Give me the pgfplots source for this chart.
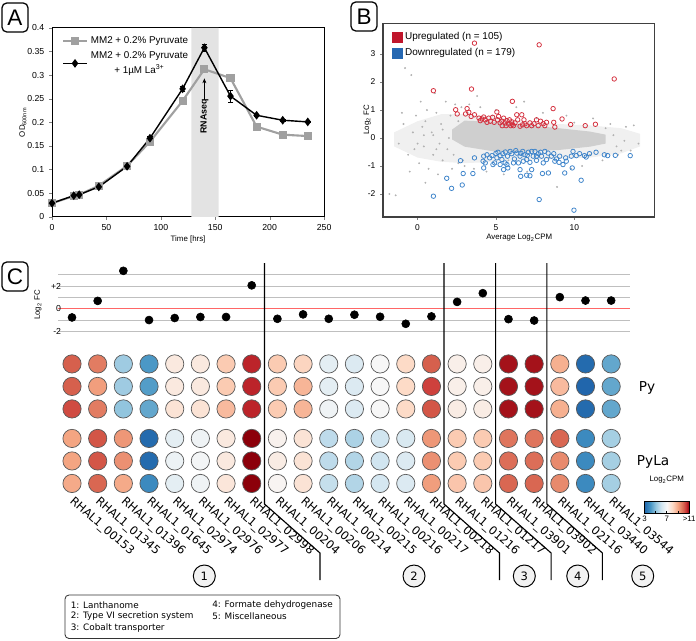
\documentclass[border=0pt]{standalone}
\usepackage{fontspec}
\setmainfont{Liberation Sans}
\newfontfamily\dejavu{DejaVu Sans}
\usepackage{pgfplots}
\pgfplotsset{compat=1.18}
\usetikzlibrary{arrows.meta}

\definecolor{upred}{RGB}{192,22,44}
\definecolor{dnblue}{RGB}{38,104,178}
\definecolor{uppt}{RGB}{212,48,62}
\definecolor{dnpt}{RGB}{62,132,202}
\definecolor{greyline}{RGB}{160,160,160}

\pgfplotsset{hm/.style={scatter, only marks, mark=*, mark size=6.5pt,
    point meta=explicit, scatter/use mapped color={draw=black!65, fill=mapped color},
    mark options={line width=0.5pt}}}

\begin{document}
% 1 unit = 1 px of the 696x640 reference, origin bottom left
\begin{tikzpicture}[x=0.025cm,y=0.025cm]
\path[use as bounding box] (0,0) rectangle (696,640);

% ---------------- panel A: growth curves
\begin{axis}[
    at={(1.3cm,10.575cm)}, anchor=south west, scale only axis,
    width=6.8cm, height=4.725cm,
    xmin=0, xmax=250, ymin=0, ymax=0.4,
    xtick={0,50,100,150,200,250},
    ytick={0,0.05,0.1,0.15,0.2,0.25,0.3,0.35,0.4},
    yticklabel style={/pgf/number format/fixed,/pgf/number format/precision=2},
    /pgf/number format/assume math mode=true,
    tick align=outside, tick pos=left, major tick length=0.07cm,
    tick label style={font=\fontsize{6.2}{7}\selectfont},
    axis line style={line width=0.7pt},
    xlabel={Time [hrs]}, ylabel={OD\textsubscript{600nm}},
    label style={font=\fontsize{5.6}{6}\selectfont},
    xlabel style={at={(axis description cs:0.5,-0.12)}, anchor=center},
    ylabel style={at={(axis description cs:-0.107,0.5)}, anchor=center},
    legend style={draw=none, fill=none, at={(axis description cs:0.02,0.985)},
        anchor=north west, font=\fontsize{7}{8}\selectfont, row sep=0pt},
    legend cell align=left,
    clip=false,
]
\addplot[fill=black!11, draw=none, forget plot] coordinates {(128,0) (153,0) (153,0.4) (128,0.4)} \closedcycle;

\addplot[color=greyline, line width=1.5pt, mark=square*, mark size=2.1pt,
    error bars/.cd, y dir=both, y explicit,
    error bar style={greyline, line width=0.6pt},
    error mark options={rotate=90, mark size=2pt, greyline, line width=0.6pt}]
coordinates {
 (0,0.029) +- (0,0.001) (20,0.044) +- (0,0.002) (25,0.047) +- (0,0.002)
 (43,0.066) +- (0,0.002) (69,0.108) +- (0,0.002) (90,0.159) +- (0,0.003)
 (120,0.2455) +- (0,0.005) (140,0.3125) +- (0,0.006) (164,0.2935) +- (0,0.006)
 (188,0.191) +- (0,0.002) (212,0.174) +- (0,0.002) (235,0.171) +- (0,0.002)
};
\addlegendentry{MM2 + 0.2\% Pyruvate}

\addplot[color=black, line width=1pt, mark=diamond*, mark size=2.3pt,
    error bars/.cd, y dir=both, y explicit,
    error bar style={black, line width=0.6pt},
    error mark options={rotate=90, mark size=2pt, black, line width=0.6pt}]
coordinates {
 (0,0.029) +- (0,0.001) (20,0.045) +- (0,0.002) (25,0.047) +- (0,0.002)
 (43,0.0635) +- (0,0.002) (69,0.107) +- (0,0.002) (90,0.1665) +- (0,0.003)
 (120,0.271) +- (0,0.0045) (140,0.358) +- (0,0.007) (164,0.2555) +- (0,0.0125)
 (188,0.215) +- (0,0.002) (212,0.2045) +- (0,0.002) (235,0.201) +- (0,0.002)
};
\addlegendentry{\shortstack{MM2 + 0.2\% Pyruvate\\+ 1µM La\textsuperscript{3+}}}

\draw[-{Stealth[length=0.12cm,width=0.1cm]}, line width=0.8pt] (axis cs:140,0.247) -- (axis cs:140,0.293);
\node[rotate=90, font=\bfseries\fontsize{6.3}{7}\selectfont] at (axis cs:140,0.213) {RNAseq};
\end{axis}

% ---------------- panel B: MA plot
\begin{axis}[
    at={(9.575cm,10.575cm)}, anchor=south west, scale only axis,
    width=6.775cm, height=4.825cm,
    xmin=-2.2, xmax=15.1, ymin=-2.82, ymax=4.08,
    xtick={0,5,10}, ytick={-2,-1,0,1,2,3},
    /pgf/number format/assume math mode=true,
    tick align=outside, tick pos=left, major tick length=0.07cm,
    tick label style={font=\fontsize{6}{7}\selectfont},
    axis line style={line width=0.9pt, black!75},
    xlabel={Average Log\textsubscript{2}CPM}, ylabel={Log\textsubscript{2} FC},
    label style={font=\fontsize{5.6}{6}\selectfont},
    xlabel style={at={(axis description cs:0.502,-0.109)}, anchor=center},
    ylabel style={at={(axis description cs:-0.059,0.503)}, anchor=center},
    legend style={draw=none, fill=none, at={(axis description cs:0.015,0.985)},
        anchor=north west, font=\fontsize{7.1}{8}\selectfont, row sep=0.5pt},
    legend cell align=left,
]
% cloud of unchanged genes: sparse halo and dense core
\addplot[fill=black!6, draw=none, forget plot] coordinates {
 (-1.5,0.2) (0,0.6) (1.5,0.85) (3,0.85) (5,0.75) (7,0.6) (9,0.5) (11,0.45) (13,0.35) (14.2,0.15)
 (14.2,-0.3) (13,-0.55) (11,-0.7) (9,-0.75) (7,-0.8) (5,-0.85) (3,-0.9) (1.5,-0.85) (0,-0.7) (-1.5,-0.3)} -- cycle;
\addplot[fill=black!19, draw=none, forget plot] coordinates {
 (2.2,0.3) (3,0.62) (5,0.58) (7,0.46) (9,0.35) (11,0.23) (12,0.12)
 (12,-0.2) (11,-0.31) (9,-0.43) (7,-0.49) (5,-0.49) (3,-0.31) (2.2,-0.05)} -- cycle;
\addplot[only marks, mark=*, mark size=0.45pt, black!30, forget plot] coordinates {
 (-1.8,-2.0) (-1.4,-2.05) (-0.8,2.5) (-0.4,2.25) (-1.2,-0.2) (-0.9,0.5) (-0.6,-0.6) (-0.3,0.2)
 (-0.1,0.8) (0.1,-0.9) (0.3,0.4) (0.4,-0.3) (0.6,1.0) (0.7,-1.1) (0.9,0.2) (1.0,-0.6)
 (1.2,0.9) (1.3,-1.3) (1.5,0.5) (1.6,-0.8) (1.8,1.3) (1.9,-0.4) (2.1,0.8) (2.2,-1.1)
 (2.4,1.2) (2.6,-0.9) (2.8,1.1) (3.0,-1.0) (3.3,1.2) (3.6,-1.1) (4.0,1.1) (4.4,-1.2)
 (5.0,1.0) (5.5,-1.3) (6.3,1.1) (7.0,-1.2) (8.0,0.9) (8.9,-1.75) (9.5,0.8) (10.5,-1.0)
 (11.2,0.7) (11.8,-0.8) (12.3,0.5) (12.8,-0.6) (13.3,0.4) (13.8,0.45) (14.1,-0.2) (13.6,-0.45)
 (0.2,1.3) (-0.5,-1.2) (0.5,-1.6) (1.1,1.6) (3.8,1.5) (6.8,1.3) (9.8,-1.1) (-1.0,0.9)
 (0.0,-0.2) (2.0,0.0) (1.0,0.1) (0.5,0.6) (1.4,-0.2) (-0.2,-0.4) (4.8,0.8) (5.8,-0.8)
 (7.6,0.7) (8.4,-0.7) (10.0,0.55) (11.0,-0.6) (12.0,0.35) (13.0,-0.45) (3.2,0.9) (2.9,-0.8)
 (1.6,0.3) (2.3,-0.6) (2.6,0.6) (12.5,0.1) (13.2,-0.1) (12.7,-0.3) (1.2,-0.4) (0.4,0.1)
};
\addplot[only marks, mark=o, mark size=1.6pt, uppt, mark options={line width=0.55pt}, forget plot] coordinates {
 (3.63,3.39) (7.76,3.33) (12.55,2.11) (1.01,1.69) (3.44,1.75) (6.05,1.31) (2.43,1.01) (2.53,0.86)
 (3.16,1.05) (3.27,0.92) (3.06,0.86) (3.42,0.77) (3.63,0.83) (3.92,0.71) (4.11,0.68) (4.32,0.65)
 (4.54,0.71) (4.64,0.6) (5.06,0.93) (5.1,0.65) (5.27,0.54) (5.49,0.71) (5.59,0.54) (5.7,0.62)
 (5.8,0.5) (5.95,0.44) (6.12,0.44) (6.22,0.54) (6.33,0.83) (6.39,0.65) (6.54,0.42) (6.65,0.83)
 (6.79,0.65) (6.96,0.44) (7.28,0.44) (7.59,0.65) (7.7,0.44) (7.85,0.6) (8.02,0.51) (8.12,0.44)
 (8.65,1.05) (8.69,0.56) (8.76,0.39) (9.22,0.68) (9.77,0.48) (10.7,0.44) (11.35,0.49) (4.79,0.74)
 (4.89,0.56) (5.38,0.6) (5.86,0.65) (6.05,0.49) (7.17,0.54) (7.43,0.51) (8.23,0.56) (5.65,0.44)
 (5.4,0.44) (4.22,0.75) (4.43,0.56) (5.17,0.77) (6.86,0.51) (4.0,0.62) (6.0,0.58) (6.7,0.47)
};
\addplot[only marks, mark=o, mark size=1.6pt, dnpt, mark options={line width=0.55pt}, forget plot] coordinates {
 (13.57,-0.63) (12.62,-0.62) (11.92,-0.6) (12.13,-0.63) (11.39,-0.51) (10.97,-0.56) (10.76,-0.68)
 (10.65,-0.63) (10.34,-0.56) (10.13,-0.63) (9.92,-0.48) (9.81,-0.65) (9.49,-0.83) (9.28,-0.95)
 (9.03,-0.87) (8.76,-0.83) (8.54,-0.65) (8.33,-0.54) (8.23,-0.77) (8.02,-0.89) (7.91,-0.65)
 (7.7,-0.56) (7.59,-0.8) (7.38,-0.65) (7.28,-0.48) (7.17,-0.87) (6.96,-0.77) (6.86,-0.6)
 (6.71,-0.48) (6.54,-0.65) (6.44,-0.89) (6.33,-0.54) (6.18,-0.75) (6.01,-0.56) (5.91,-0.48)
 (5.74,-0.65) (5.59,-0.89) (5.44,-0.56) (5.27,-0.63) (5.13,-0.51) (5.06,-0.71) (4.92,-0.89)
 (4.75,-0.63) (4.6,-0.71) (4.43,-0.6) (4.32,-0.89) (4.22,-0.65) (4.18,-0.83) (4.22,-1.07)
 (5.7,-0.95) (5.76,-1.07) (5.27,-0.95) (5.49,-1.13) (3.63,-0.71) (2.74,-0.81) (2.91,-1.27)
 (3.53,-1.27) (1.86,-1.44) (2.17,-1.8) (2.85,-1.68) (1.01,-2.08) (6.54,-1.13) (6.58,-1.37)
 (6.96,-1.33) (7.17,-1.35) (7.28,-1.13) (7.76,-2.2) (7.97,-1.27) (8.35,-1.25) (9.39,-1.25)
 (9.87,-1.07) (10.44,-1.51) (9.98,-2.58) (9.07,-0.65) (7.49,-0.48) (7.85,-0.51) (8.12,-0.48)
 (7.07,-0.51) (6.27,-0.45) (8.69,-0.56) (8.86,-0.75) (9.45,-0.71) (4.81,-0.95) (6.12,-0.89)
 (6.75,-0.83) (7.59,-0.65) (5.38,-0.77) (5.0,-0.55) (5.6,-0.5) (6.6,-0.55) (7.0,-0.62)
};
\addlegendimage{legend image code/.code={\fill[upred] (0,-0.125cm) rectangle (0.25cm,0.125cm);}}
\addlegendentry{Upregulated (n = 105)}
\addlegendimage{legend image code/.code={\fill[dnblue] (0,-0.125cm) rectangle (0.25cm,0.125cm);}}
\addlegendentry{Downregulated (n = 179)}
\end{axis}

% ---------------- panel C: log2 FC dots
\begin{axis}[
    at={(1.45cm,7.7075cm)}, anchor=south west, scale only axis,
    width=14.3cm, height=1.4175cm,
    xmin=-0.545, xmax=21.74, ymin=-2, ymax=3,
    axis line style={draw=none}, major tick length=0pt,
    xtick=\empty, ytick={-2,-1,1,2,3}, yticklabels={-2,,,+2,},
    extra y ticks={0}, extra y tick labels={0},
    extra y tick style={grid style={color=red!60, line width=0.7pt}},
    ymajorgrids, grid style={black!25, line width=0.7pt},
    yticklabel style={font=\fontsize{6.2}{7}\selectfont, xshift=0.2cm},
    ylabel={Log\textsubscript{2} FC},
    ylabel style={font=\fontsize{5.6}{6}\selectfont, at={(axis description cs:-0.035,0.47)}, anchor=center},
    clip=false,
]
\addplot[only marks, mark=*, mark size=2.85pt, black] coordinates {
 (0,-0.75) (1,0.71) (2,3.36) (3,-0.98) (4,-0.8) (5,-0.71) (6,-0.71) (7,2.08)
 (8,-0.87) (9,-0.48) (10,-0.87) (11,-0.51) (12,-0.69) (13,-1.31) (14,-0.66)
 (15,0.62) (16,1.39) (17,-0.9) (18,-1.02) (19,1.04) (20,0.74) (21,0.74)
};
\end{axis}

% ---------------- panel C: expression heat dots (y = minus pixel row)
\begin{axis}[
    at={(1.45cm,3.5cm)}, anchor=south west, scale only axis,
    width=14.3cm, height=3.75cm,
    xmin=-0.545, xmax=21.74, ymin=-500, ymax=-350,
    hide axis, clip=false,
    colormap={rdbu}{rgb255(0cm)=(33,102,172); rgb255(1cm)=(50,125,184); rgb255(2cm)=(67,147,195);
        rgb255(3cm)=(107,172,208); rgb255(4cm)=(146,197,222); rgb255(5cm)=(178,213,231);
        rgb255(6cm)=(209,229,240); rgb255(7cm)=(228,238,243); rgb255(8cm)=(247,247,247);
        rgb255(9cm)=(250,233,223); rgb255(10cm)=(253,219,199); rgb255(11cm)=(249,192,165);
        rgb255(12cm)=(244,165,130); rgb255(13cm)=(229,131,104); rgb255(14cm)=(214,96,77);
        rgb255(15cm)=(200,45,50); rgb255(16cm)=(140,0,10)},
    point meta min=3, point meta max=11,
    colorbar horizontal,
    colorbar style={
        at={(parent axis.south west)}, anchor=south west,
        xshift=14.6575cm, yshift=-0.0425cm,
        scale only axis, width=1.1175cm, height=0.31cm,
        xtick={3,5,7,9,11}, xticklabels={3,,7,,>11}, ytick=\empty,
        xtick pos=left, tick align=inside, major tick length=0.075cm,
        tick style={black, line width=0.5pt},
        xticklabel style={font=\fontsize{5.6}{6}\selectfont, yshift=0.06cm},
        axis line style={line width=0.6pt},
    },
]
\addplot[hm] coordinates {(0,-364) [10.0] (1,-364) [9.6] (2,-364) [5.2] (3,-364) [4.1] (4,-364) [7.5] (5,-364) [7.5] (6,-364) [8.3] (7,-364) [10.6] (8,-364) [8.3] (9,-364) [8.1] (10,-364) [6.5] (11,-364) [6.3] (12,-364) [7.0] (13,-364) [8.0] (14,-364) [10.0] (15,-364) [7.3] (16,-364) [7.3] (17,-364) [10.8] (18,-364) [10.8] (19,-364) [8.8] (20,-364) [3.1] (21,-364) [4.4]};
\addplot[hm] coordinates {(0,-386.5) [10.0] (1,-386.5) [9.1] (2,-386.5) [5.2] (3,-386.5) [4.2] (4,-386.5) [7.5] (5,-386.5) [7.5] (6,-386.5) [8.3] (7,-386.5) [10.6] (8,-386.5) [8.3] (9,-386.5) [8.7] (10,-386.5) [6.5] (11,-386.5) [6.3] (12,-386.5) [7.0] (13,-386.5) [8.0] (14,-386.5) [10.3] (15,-386.5) [7.3] (16,-386.5) [7.3] (17,-386.5) [10.8] (18,-386.5) [10.8] (19,-386.5) [8.6] (20,-386.5) [3.0] (21,-386.5) [4.4]};
\addplot[hm] coordinates {(0,-409) [10.2] (1,-409) [9.6] (2,-409) [5.0] (3,-409) [4.4] (4,-409) [7.7] (5,-409) [7.7] (6,-409) [8.6] (7,-409) [10.6] (8,-409) [8.3] (9,-409) [8.7] (10,-409) [6.8] (11,-409) [6.3] (12,-409) [7.0] (13,-409) [8.0] (14,-409) [10.1] (15,-409) [7.4] (16,-409) [7.4] (17,-409) [10.8] (18,-409) [10.8] (19,-409) [8.8] (20,-409) [3.1] (21,-409) [4.4]};
\addplot[hm] coordinates {(0,-438.5) [9.0] (1,-438.5) [10.1] (2,-438.5) [9.2] (3,-438.5) [3.1] (4,-438.5) [6.5] (5,-438.5) [6.8] (6,-438.5) [7.5] (7,-438.5) [11] (8,-438.5) [7.2] (9,-438.5) [7.7] (10,-438.5) [5.7] (11,-438.5) [5.4] (12,-438.5) [6.0] (13,-438.5) [6.2] (14,-438.5) [9.2] (15,-438.5) [8.3] (16,-438.5) [8.3] (17,-438.5) [9.7] (18,-438.5) [9.7] (19,-438.5) [9.9] (20,-438.5) [3.8] (21,-438.5) [5.3]};
\addplot[hm] coordinates {(0,-461) [9.0] (1,-461) [10.1] (2,-461) [9.3] (3,-461) [3.1] (4,-461) [6.7] (5,-461) [6.9] (6,-461) [7.5] (7,-461) [11] (8,-461) [7.4] (9,-461) [7.7] (10,-461) [5.7] (11,-461) [5.5] (12,-461) [6.0] (13,-461) [6.3] (14,-461) [9.3] (15,-461) [8.3] (16,-461) [8.3] (17,-461) [9.8] (18,-461) [9.8] (19,-461) [9.4] (20,-461) [3.8] (21,-461) [5.3]};
\addplot[hm] coordinates {(0,-483.5) [8.9] (1,-483.5) [9.9] (2,-483.5) [8.9] (3,-483.5) [3.8] (4,-483.5) [6.5] (5,-483.5) [6.8] (6,-483.5) [7.6] (7,-483.5) [11] (8,-483.5) [7.1] (9,-483.5) [7.7] (10,-483.5) [5.8] (11,-483.5) [5.5] (12,-483.5) [6.1] (13,-483.5) [6.3] (14,-483.5) [9.1] (15,-483.5) [8.4] (16,-483.5) [8.4] (17,-483.5) [9.9] (18,-483.5) [9.9] (19,-483.5) [9.4] (20,-483.5) [3.8] (21,-483.5) [5.3]};
\end{axis}

% ---------------- annotations (y = 640 - pixel row of the reference)
\foreach \lx/\ly/\lt in {2/637/A, 351/638/B, 2/378/C}{
  \draw[rounded corners=0.12cm, line width=0.9pt] (\lx,\ly) rectangle ++(26,-29);
  \node[font=\fontsize{16}{16}\selectfont] at (\lx+13,\ly-14.5) {\lt};
}
\foreach \sx in {264.5,444,495.6,546.9}{
  \draw[line width=0.8pt] (\sx,377) -- (\sx,136) -- (\sx+55.5,87) -- (\sx+55.5,60);
}
\foreach \n [count=\i from 0] in {00153,01345,01396,01645,02974,02976,02977,02998,00204,00206,00214,00215,00216,00217,00218,01216,01217,03901,03902,02116,03440,03544}{
  \node[rotate=-41, anchor=north west, inner sep=0pt, font=\dejavu\fontsize{8.2}{9}\selectfont]
    at ({72+25.67*\i+3},144.5) {RHAL1\_\n};
}
\foreach \cx/\ct in {204.3/1, 414/2, 524.3/3, 577.7/4, 642.7/5}{
  \node[circle, draw, line width=0.7pt, fill=black!5, minimum size=0.55cm, inner sep=0pt,
        font=\dejavu\fontsize{8.2}{9}\selectfont] at (\cx,64) {\ct};
}
\node[anchor=west, font=\dejavu\fontsize{9.7}{10}\selectfont] at (634,252) {Py};
\node[anchor=west, font=\dejavu\fontsize{9.7}{10}\selectfont] at (632,178.5) {PyLa};
\node[font=\fontsize{5.6}{6}\selectfont] at (666.7,160) {Log\textsubscript{2}CPM};

\draw[rounded corners=0.1cm, line width=0.6pt, black!80] (65,45) rectangle (340,1.5);
\begin{scope}[every node/.style={anchor=west, inner sep=0pt, font=\dejavu\fontsize{6.3}{7}\selectfont}]
\node at (70.5,35) {1: Lanthanome};
\node at (70.5,23.5) {2: Type VI secretion system};
\node at (70.5,12) {3: Cobalt transporter};
\node at (212,35) {4: Formate dehydrogenase};
\node at (212,23.5) {5: Miscellaneous};
\end{scope}
\end{tikzpicture}
\end{document}
